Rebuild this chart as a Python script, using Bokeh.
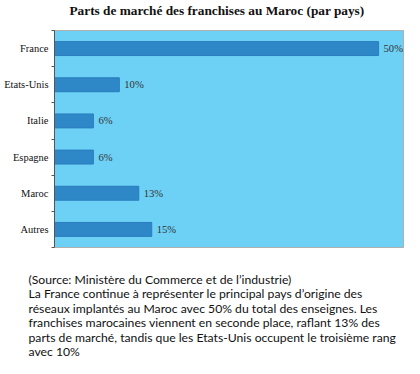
from bokeh.plotting import figure
from bokeh.models import ColumnDataSource, Range1d, FixedTicker, Title
from bokeh.core.properties import value
from bokeh.embed import file_html
from bokeh.resources import INLINE

title_text = "Parts de marché des franchises au Maroc (par pays)"
countries = ["France", "Etats-Unis", "Italie", "Espagne", "Maroc", "Autres"]
shares = [50, 10, 6, 6, 13, 15]
paragraph = [
    "(Source: Ministère du Commerce et de l\u2019industrie)",
    "La France continue à représenter le principal pays d\u2019origine des",
    "réseaux implantés au Maroc avec 50% du total des enseignes. Les",
    "franchises marocaines viennent en seconde place, raflant 13% des",
    "parts de marché, tandis que les Etats-Unis occupent le troisième rang",
    "avec 10%",
]

n = len(countries)
ypos = [n - i - 0.5 for i in range(n)]
labels = [f"{v}%" for v in shares]

src = ColumnDataSource(dict(y=ypos, v=shares, lab=labels, name=countries))

p = figure(width=404, height=358, output_backend="svg", toolbar_location=None,
           x_range=Range1d(0, 54.0), y_range=Range1d(0, n),
           min_border_left=54, min_border_right=0, min_border_top=29, min_border_bottom=111)
p.background_fill_color = "#6dd0f5"
p.border_fill_color = "white"
p.outline_line_color = "#b0b0b0"
p.xgrid.visible = False
p.ygrid.visible = False
p.xaxis.visible = False

# spacer above the frame, then the title
p.add_layout(Title(text=" ", text_font="Lato", text_font_size="2px", standoff=9), "above")
p.add_layout(Title(text=title_text, align="left", offset=15, standoff=0,
                   vertical_align="bottom", text_font="Liberation Serif",
                   text_font_style="bold", text_font_size="13.3px",
                   text_color="#111111"), "above")

p.hbar(y="y", right="v", left=0, height=0.385, source=src,
       fill_color="#2e88c8", line_color="#2a7dbd", line_width=1)
p.text(x="v", y="y", text="lab", source=src, x_offset=5,
       text_baseline="middle", text_align="left",
       text_font=value("Liberation Serif"), text_font_size="10.6px", text_color="#333333")

yax = p.yaxis[0]
yax.ticker = FixedTicker(ticks=ypos, minor_ticks=list(range(n + 1)))
yax.major_label_overrides = {y: c for y, c in zip(ypos, countries)}
yax.major_tick_out = 0
yax.major_tick_in = 0
yax.minor_tick_out = 3
yax.minor_tick_in = 0
yax.minor_tick_line_color = "#555555"
yax.axis_line_color = "#555555"
yax.major_label_standoff = 3
yax.major_label_text_font = "Liberation Serif"
yax.major_label_text_font_size = "10.5px"
yax.major_label_text_color = "#111111"

# spacer below the frame, then the paragraph
p.add_layout(Title(text=" ", text_font="Lato", text_font_size="2px", standoff=28), "below")
p.add_layout(Title(text="\n".join(paragraph), align="left", offset=-26, standoff=-16,
                   vertical_align="top", text_font="Lato", text_font_size="12.2px",
                   text_font_style="normal", text_color="#111111",
                   text_line_height=0.967), "below")

open("out.html", "w").write(file_html(p, INLINE))
